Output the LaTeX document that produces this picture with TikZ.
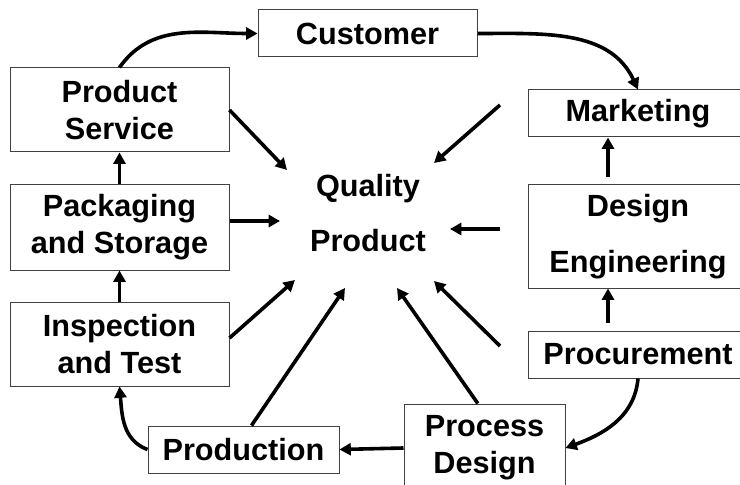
\documentclass[tikz,border=0pt]{standalone}
\usepackage{fontspec}
\setmainfont{Liberation Sans}
\usetikzlibrary{arrows.meta}
\tikzset{
    flow-box/.style = {draw=black!75, line width=0.75pt, fill=white, rectangle, inner sep=0pt, align=center, font=\bfseries\fontsize{23}{27.75}\selectfont},
    flow-text/.style = {align=center, inner sep=0pt, font=\bfseries\fontsize{23}{27.75}\selectfont},
    flow-arrow/.style = {-{Triangle[length=8.5pt,width=9pt]}, line width=2.7pt},
}
\begin{document}
\begin{tikzpicture}[x=0.75pt, y=-0.75pt]
\useasboundingbox (0,0) rectangle (740,485);
\clip (0,0) rectangle (740,485);
\node[flow-box, minimum width=164.25pt, minimum height=35.25pt] (cust) at (367.5,33.5) {Customer};
\node[flow-box, minimum width=164.25pt, minimum height=63pt] (ps) at (119.5,110) {Product\\Service};
\node[flow-box, minimum width=164.25pt, minimum height=63.75pt] (pack) at (119.5,227.5) {Packaging\\and Storage};
\node[flow-box, minimum width=164.25pt, minimum height=63pt] (insp) at (119.5,344) {Inspection\\and Test};
\node[flow-box, minimum width=143.25pt, minimum height=35.25pt] (prod) at (243.5,449.5) {Production};
\node[flow-box, minimum width=120.75pt, minimum height=66pt] (pd) at (484.5,448) {Process\\Design};
\node[flow-box, minimum width=165pt, minimum height=35.25pt] (mkt) at (638,113.5) {Marketing};
\node[flow-box, minimum width=165pt, minimum height=77.25pt] (de) at (638,236.5) {Design\\[14pt]Engineering};
\node[flow-box, minimum width=165pt, minimum height=35.25pt] (proc) at (638,354.5) {Procurement};
\node[flow-text] (qp) at (368,213) {Quality\\[14pt]Product};

\coordinate (q1) at (287,170);
\coordinate (q2) at (280,221);
\coordinate (q3) at (295,280);
\coordinate (q4) at (345,288);
\coordinate (q5) at (397,288);
\coordinate (q6) at (434,281);
\coordinate (q7) at (450,229);
\coordinate (q8) at (434,163);
\coordinate (r6) at (500,346);
\coordinate (r7) at (500,229);
\coordinate (r8) at (500,105);

\draw[flow-arrow] (ps.north) to[out=55, in=180] (cust.west);
\draw[flow-arrow] (cust.east) to[out=0, in=115] (mkt.north);
\draw[flow-arrow, shorten <=5.5pt] ([xshift=-22.5pt]de.north) -- ([xshift=-22.5pt]mkt.south);
\draw[flow-arrow, shorten <=5.5pt] ([xshift=-22.5pt]proc.north) -- ([xshift=-22.5pt]de.south);
\draw[flow-arrow] (proc.south) to[out=-95, in=20] (pd.east);
\draw[flow-arrow] (pd.west) -- (prod.east);
\draw[flow-arrow] (prod.west) to[out=160, in=-85] (insp.south);
\draw[flow-arrow] (insp) -- (pack);
\draw[flow-arrow] (pack) -- (ps);

\draw[flow-arrow] (ps.east) -- (q1);
\draw[flow-arrow] (pack.east |- q2) -- (q2);
\draw[flow-arrow] ([yshift=4.5pt]insp.east) -- (q3);
\draw[flow-arrow] ([xshift=6pt]prod.north) -- (q4);
\draw[flow-arrow] ([xshift=-5pt]pd.north) -- (q5);
\draw[flow-arrow] (r6) -- (q6);
\draw[flow-arrow] (r7) -- (q7);
\draw[flow-arrow] (r8) -- (q8);
\end{tikzpicture}
\end{document}
